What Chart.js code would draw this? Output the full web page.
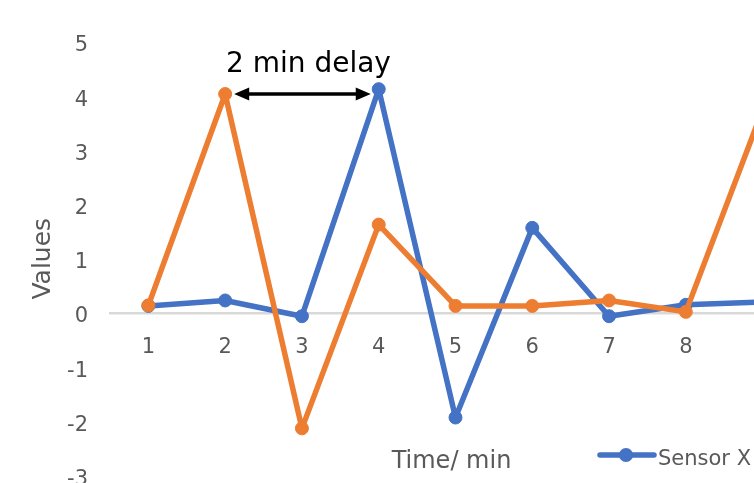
<!DOCTYPE html>
<html>
<head>
<meta charset="utf-8">
<script src="https://cdn.jsdelivr.net/npm/chart.js@4/dist/chart.umd.min.js"></script>
<style>
  html, body { margin: 0; padding: 0; background: #fff; overflow: hidden; }
  #frame { position: relative; width: 754px; height: 483px; overflow: hidden; }
  #frame canvas { position: absolute; left: 0; top: 0; }
</style>
</head>
<body>
<div id="frame"><canvas id="chart" width="980" height="483"></canvas></div>
<script>
// Readings per minute
const minutes = ['1', '2', '3', '4', '5', '6', '7', '8', '9'];
const sensorX = [0.13, 0.23, -0.06, 4.13, -1.93, 1.57, -0.06, 0.15, 0.20];
const sensorY = [0.14, 4.04, -2.13, 1.63, 0.13, 0.13, 0.23, 0.02, 3.75];
const seriesNames = ['Sensor X', 'Sensor Y'];
const valueRange = { min: -3, max: 5, step: 1 };

const BLUE = '#4472C4';
const ORANGE = '#ED7D31';
const GREY_TEXT = '#595959';
const FONT = "'DejaVu Sans', sans-serif";

// Delay marker: orange peak at minute 2 vs blue peak at minute 4
const delayFrom = 1;
const delayTo = 3;
const delayText = '2 min delay';
const xAxisTitle = 'Time/ min';

const overlay = {
  id: 'overlay',
  afterDraw(chart) {
    const { ctx, scales: { x, y }, chartArea } = chart;
    ctx.save();

    // double-headed arrow between the two peaks
    const ay = y.getPixelForValue(sensorY[delayFrom]);
    const x1 = x.getPixelForValue(delayFrom) + 9;
    const x2 = x.getPixelForValue(delayTo) - 8;
    const head = 15, half = 6.5;
    ctx.strokeStyle = '#000';
    ctx.fillStyle = '#000';
    ctx.lineWidth = 3.5;
    ctx.beginPath();
    ctx.moveTo(x1 + head - 2, ay);
    ctx.lineTo(x2 - head + 2, ay);
    ctx.stroke();
    ctx.beginPath();
    ctx.moveTo(x1, ay); ctx.lineTo(x1 + head, ay - half); ctx.lineTo(x1 + head, ay + half); ctx.closePath();
    ctx.fill();
    ctx.beginPath();
    ctx.moveTo(x2, ay); ctx.lineTo(x2 - head, ay - half); ctx.lineTo(x2 - head, ay + half); ctx.closePath();
    ctx.fill();

    ctx.font = '28px ' + FONT;
    ctx.textAlign = 'center';
    ctx.textBaseline = 'alphabetic';
    ctx.fillText(delayText, (x1 + x2) / 2 + 6, ay - 22);

    // horizontal axis title
    ctx.fillStyle = GREY_TEXT;
    ctx.font = '24px ' + FONT;
    ctx.fillText(xAxisTitle, (chartArea.left + chartArea.right) / 2 - 4, 468);

    // legend entries
    let lx = 600;
    const ly = 455;
    const colors = [BLUE, ORANGE];
    ctx.textAlign = 'left';
    ctx.font = '21px ' + FONT;
    seriesNames.forEach((name, i) => {
      ctx.strokeStyle = colors[i];
      ctx.fillStyle = colors[i];
      ctx.lineWidth = 5.5;
      ctx.lineCap = 'round';
      ctx.beginPath();
      ctx.moveTo(lx, ly); ctx.lineTo(lx + 54, ly);
      ctx.stroke();
      ctx.beginPath();
      ctx.arc(lx + 26, ly, 7, 0, Math.PI * 2);
      ctx.fill();
      ctx.fillStyle = GREY_TEXT;
      ctx.fillText(name, lx + 58, ly + 10);
      lx += 58 + ctx.measureText(name).width + 30;
    });
    ctx.restore();
  }
};

new Chart(document.getElementById('chart'), {
  type: 'line',
  data: {
    labels: minutes,
    datasets: [
      {
        label: seriesNames[0], data: sensorX, order: 1,
        borderColor: BLUE, backgroundColor: BLUE,
        pointBackgroundColor: BLUE, pointBorderColor: BLUE,
        borderWidth: 5.5, pointRadius: 6.5, pointBorderWidth: 1, pointHoverRadius: 6.5,
        tension: 0, borderJoinStyle: 'round', borderCapStyle: 'round'
      },
      {
        label: seriesNames[1], data: sensorY, order: 0,
        borderColor: ORANGE, backgroundColor: ORANGE,
        pointBackgroundColor: ORANGE, pointBorderColor: ORANGE,
        borderWidth: 5.5, pointRadius: 6.5, pointBorderWidth: 1, pointHoverRadius: 6.5,
        tension: 0, borderJoinStyle: 'round', borderCapStyle: 'round'
      }
    ]
  },
  options: {
    responsive: false,
    animation: false,
    layout: { padding: { left: 0, top: 42, right: 179, bottom: 7 } },
    plugins: { legend: { display: false }, tooltip: { enabled: false } },
    scales: {
      x: {
        type: 'category',
        position: { y: 0 },
        offset: true,
        grid: { display: true, color: 'rgba(0,0,0,0)', drawTicks: false },
        border: { display: true, color: '#D9D9D9', width: 2.5 },
        ticks: { color: GREY_TEXT, font: { family: FONT, size: 21 }, padding: 22, maxRotation: 0, autoSkip: false }
      },
      y: {
        min: valueRange.min, max: valueRange.max,
        grid: { display: false, drawTicks: false },
        border: { display: false },
        ticks: { stepSize: valueRange.step, color: GREY_TEXT, font: { family: FONT, size: 21 }, padding: 22, labelOffset: 4 },
        title: { display: true, text: 'Values', color: GREY_TEXT, font: { family: FONT, size: 25 }, padding: { top: 28, bottom: 0 } },
        afterFit(scale) {
          scale.width = 110;
          scale.paddingTop = 0;
          scale.paddingBottom = 0;
        }
      }
    }
  },
  plugins: [overlay]
});
</script>
</body>
</html>
